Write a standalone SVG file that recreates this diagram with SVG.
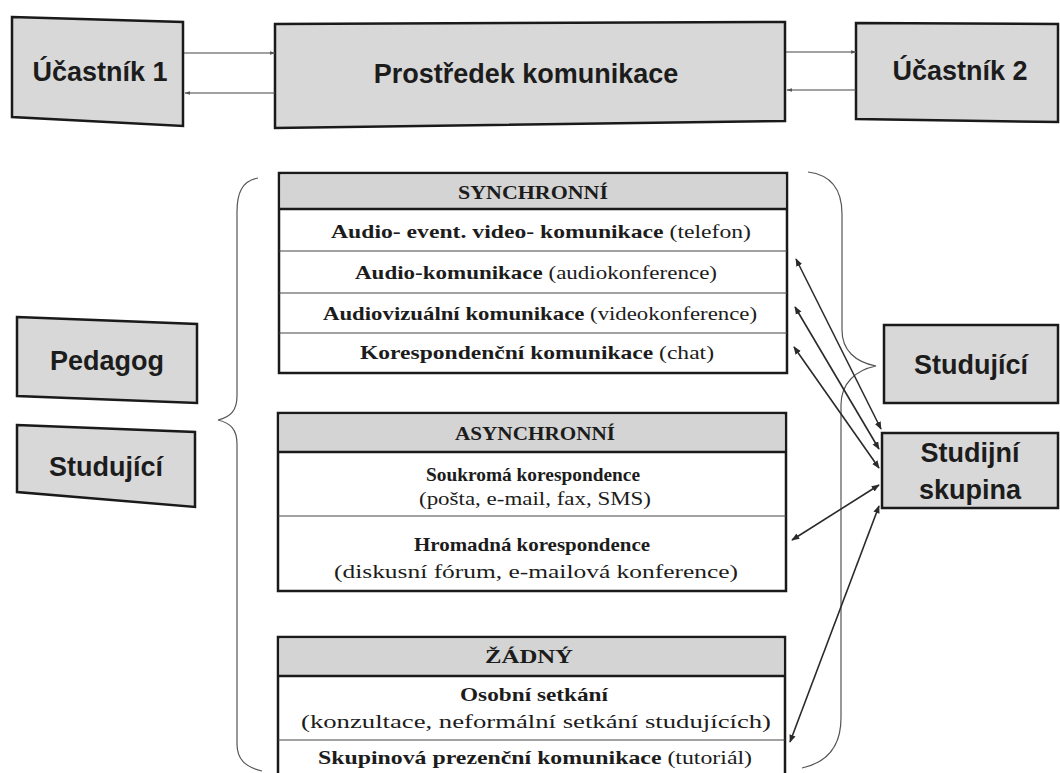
<svg xmlns="http://www.w3.org/2000/svg" width="1060" height="773" viewBox="0 0 1060 773">
<style>
.box{fill:#d8d8d8;stroke:#1a1a1a;stroke-width:2.5}
.lbl{font-family:"Liberation Sans",Arial,sans-serif;font-weight:bold;font-size:27px;fill:#1c1c1c;text-anchor:middle}
.tbl{fill:#ffffff;stroke:#1a1a1a;stroke-width:2.5}
.hdr{fill:#d4d4d4;stroke:none}
.sep{stroke:#1a1a1a;stroke-width:2.5}
.row{stroke:#444;stroke-width:1}
.t{font-family:"Liberation Serif","Times New Roman",serif;font-size:19px;fill:#1c1c1c;text-anchor:middle}
.b{font-weight:bold}
.brace{fill:none;stroke:#555;stroke-width:1.2}
.con{stroke:#2a2a2a;stroke-width:1.6;fill:none}
.con2{stroke:#444;stroke-width:1.1;fill:none}
</style>
<defs>
<marker id="ah" viewBox="0 0 10 10" refX="9" refY="5" markerWidth="8" markerHeight="8" markerUnits="userSpaceOnUse" orient="auto-start-reverse">
<path d="M0,1 L10,5 L0,9 z" fill="#2a2a2a"/>
</marker>
<marker id="ahs" viewBox="0 0 10 10" refX="9" refY="5" markerWidth="6" markerHeight="6" markerUnits="userSpaceOnUse" orient="auto-start-reverse">
<path d="M0,2 L10,5 L0,8 z" fill="#555"/>
</marker>
</defs>

<g id="ucastnik1">
<polygon class="box" points="12,17 183,22 183,126 12,117"/>
<text class="lbl" x="100" y="81">Účastník 1</text>
</g>
<g id="prostredek">
<polygon class="box" points="275,24 785,22 785,121 275,128"/>
<text class="lbl" x="526" y="83">Prostředek komunikace</text>
</g>
<g id="ucastnik2">
<polygon class="box" points="856,23 1058,24 1058,122 856,119"/>
<text class="lbl" x="960" y="80">Účastník 2</text>
</g>

<g id="pedagog">
<polygon class="box" points="17,317 197,324 197,403 17,396"/>
<text class="lbl" x="107" y="370">Pedagog</text>
</g>
<g id="studujici-left">
<polygon class="box" points="17,425 195,432 195,507 17,492"/>
<text class="lbl" x="106" y="476">Studující</text>
</g>

<g id="studujici-right">
<rect class="box" x="884" y="325" width="174" height="78"/>
<text class="lbl" x="971" y="374">Studující</text>
</g>
<g id="studijni-skupina">
<rect class="box" x="882" y="433" width="176" height="75"/>
<text class="lbl" x="970" y="462">Studijní</text>
<text class="lbl" x="970" y="499">skupina</text>
</g>

<g id="synchronni">
<rect class="tbl" x="279" y="173" width="508" height="200"/>
<rect class="hdr" x="281" y="175" width="504" height="34"/>
<line class="sep" x1="279" y1="209" x2="787" y2="209"/>
<line class="row" x1="279" y1="251" x2="787" y2="251"/>
<line class="row" x1="279" y1="293" x2="787" y2="293"/>
<line class="row" x1="279" y1="333" x2="787" y2="333"/>
<text class="t b" x="533" y="199" textLength="150" lengthAdjust="spacingAndGlyphs">SYNCHRONNÍ</text>
<text class="t" x="541" y="238" textLength="420" lengthAdjust="spacingAndGlyphs"><tspan class="b">Audio- event. video- komunikace</tspan> (telefon)</text>
<text class="t" x="536" y="279" textLength="362" lengthAdjust="spacingAndGlyphs"><tspan class="b">Audio-komunikace</tspan> (audiokonference)</text>
<text class="t" x="540" y="320" textLength="434" lengthAdjust="spacingAndGlyphs"><tspan class="b">Audiovizuální komunikace</tspan> (videokonference)</text>
<text class="t" x="537" y="359" textLength="354" lengthAdjust="spacingAndGlyphs"><tspan class="b">Korespondenční komunikace</tspan> (chat)</text>
</g>

<g id="asynchronni">
<rect class="tbl" x="278" y="413" width="508" height="178"/>
<rect class="hdr" x="280" y="415" width="504" height="37"/>
<line class="sep" x1="278" y1="452" x2="786" y2="452"/>
<line class="row" x1="278" y1="516" x2="786" y2="516"/>
<text class="t b" x="535" y="440" textLength="160" lengthAdjust="spacingAndGlyphs">ASYNCHRONNÍ</text>
<text class="t b" x="533" y="481" textLength="214" lengthAdjust="spacingAndGlyphs">Soukromá korespondence</text>
<text class="t" x="535" y="505" textLength="232" lengthAdjust="spacingAndGlyphs">(pošta, e-mail, fax, SMS)</text>
<text class="t b" x="532" y="551" textLength="236" lengthAdjust="spacingAndGlyphs">Hromadná korespondence</text>
<text class="t" x="536" y="578" textLength="404" lengthAdjust="spacingAndGlyphs">(diskusní fórum, e-mailová konference)</text>
</g>

<g id="zadny">
<rect class="tbl" x="278" y="637" width="507" height="145"/>
<rect class="hdr" x="280" y="639" width="503" height="37"/>
<line class="sep" x1="278" y1="676" x2="785" y2="676"/>
<line class="row" x1="278" y1="740" x2="785" y2="740"/>
<text class="t b" x="529" y="663" textLength="88" lengthAdjust="spacingAndGlyphs">ŽÁDNÝ</text>
<text class="t b" x="534" y="701" textLength="148" lengthAdjust="spacingAndGlyphs">Osobní setkání</text>
<text class="t" x="536" y="728" textLength="470" lengthAdjust="spacingAndGlyphs">(konzultace, neformální setkání studujících)</text>
<text class="t" x="535" y="764" textLength="434" lengthAdjust="spacingAndGlyphs"><tspan class="b">Skupinová prezenční komunikace</tspan> (tutoriál)</text>
</g>

<g id="braces">
<path class="brace" d="M258,178 C242,181 237,193 237,212 L237,396 C237,410 231,417 218,420 C231,423 237,430 237,444 L237,744 C237,759 245,767 262,771"/>
<path class="brace" d="M808,172 C832,175 842,190 842,214 L842,330 C842,350 855,362 876,366 C856,370 841,383 841,405 L841,718 C841,744 829,762 802,768"/>
</g>

<g id="connectors">
<line class="con2" x1="184" y1="53" x2="275" y2="53" marker-end="url(#ahs)"/>
<line class="con2" x1="275" y1="93" x2="185" y2="93" marker-end="url(#ahs)"/>
<line class="con2" x1="786" y1="52" x2="856" y2="52" marker-end="url(#ahs)"/>
<line class="con2" x1="856" y1="90" x2="787" y2="90" marker-end="url(#ahs)"/>
<line class="con" x1="796" y1="259" x2="881" y2="429" marker-start="url(#ah)" marker-end="url(#ah)"/>
<line class="con" x1="795" y1="307" x2="879" y2="449" marker-start="url(#ah)" marker-end="url(#ah)"/>
<line class="con" x1="794" y1="347" x2="879" y2="468" marker-start="url(#ah)" marker-end="url(#ah)"/>
<line class="con" x1="792" y1="540" x2="879" y2="485" marker-start="url(#ah)" marker-end="url(#ah)"/>
<line class="con" x1="790" y1="742" x2="879" y2="506" marker-start="url(#ah)" marker-end="url(#ah)"/>
</g>
</svg>
